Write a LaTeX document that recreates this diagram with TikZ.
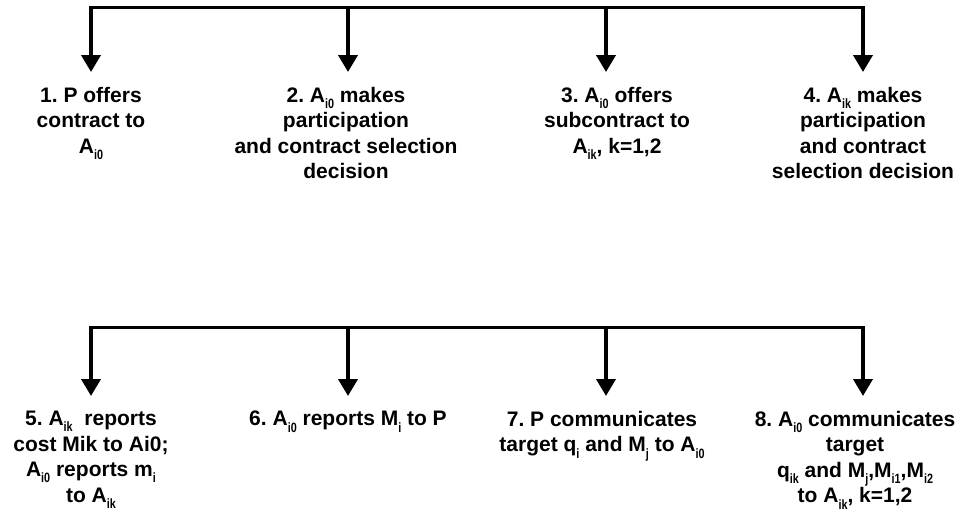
\documentclass[tikz,border=0pt]{standalone}
\usepackage{fontspec}
\setmainfont{Liberation Sans}
\usepackage{graphicx}
\usepackage{tikz}
\usetikzlibrary{arrows.meta, positioning}
\newcommand{\sbx}[1]{\raisebox{-0.3em}{\fontsize{13.5}{13.5}\selectfont\scalebox{0.8}[1]{#1}}}
\frenchspacing

\begin{document}
\begin{tikzpicture}[x=1pt, y=-1pt,
        stage/.style={anchor=north, inner sep=0pt, align=center,
            font=\bfseries\fontsize{21}{25.5}\selectfont},
        bar/.style={line width=3.8pt, line cap=rect},
        flow/.style={line width=3.8pt, shorten >=15pt,
            -{Triangle[length=17pt, width=19pt]}}]
    \useasboundingbox (0,0) rectangle (961,512);
    % branch points on the two bars
    \coordinate (top1) at (91,7.5);
    \coordinate (top2) at (348,7.5);
    \coordinate (top3) at (606,7.5);
    \coordinate (top4) at (863,7.5);
    \coordinate (low1) at (91,327.5);
    \coordinate (low2) at (348,327.5);
    \coordinate (low3) at (606,327.5);
    \coordinate (low4) at (863,327.5);
    % first four stages
    \node[stage] (stage1) at (91,87) {1. P offers\\contract to\\A\sbx{i0}};
    \node[stage] (stage2) at (346,87) {2. A\sbx{i0} makes\\participation\\and contract selection\\decision};
    \node[stage] (stage3) at (617,87) {3. A\sbx{i0} offers\\subcontract to\\A\sbx{ik}, k=1,2};
    \node[stage] (stage4) at (863,87) {4. A\sbx{ik} makes\\participation\\and contract\\selection decision};
    % last four stages
    \node[stage] (stage5) at (91,411) {5. A\sbx{ik}~ reports\\cost Mik to Ai0;\\A\sbx{i0} reports m\sbx{i}\\to A\sbx{ik}};
    \node[stage] (stage6) at (348,411) {6. A\sbx{i0} reports M\sbx{i} to P};
    \node[stage] (stage7) at (602,411) {7. P communicates\\target q\sbx{i} and M\sbx{j} to A\sbx{i0}};
    \node[stage] (stage8) at (855,411) {8. A\sbx{i0} communicates\\target\\q\sbx{ik} and M\sbx{j},M\sbx{i1},M\sbx{i2}\\to A\sbx{ik}, k=1,2};
    \draw[bar] (top1) -- (top4);
    \draw[bar] (low1) -- (low4);
    \foreach \i in {1,...,4}
        \draw[flow] (top\i) -- (top\i |- stage\i.north);
    \foreach \i/\j in {1/5,2/6,3/7,4/8}
        \draw[flow] (low\i) -- (low\i |- stage\j.north);
\end{tikzpicture}
\end{document}
